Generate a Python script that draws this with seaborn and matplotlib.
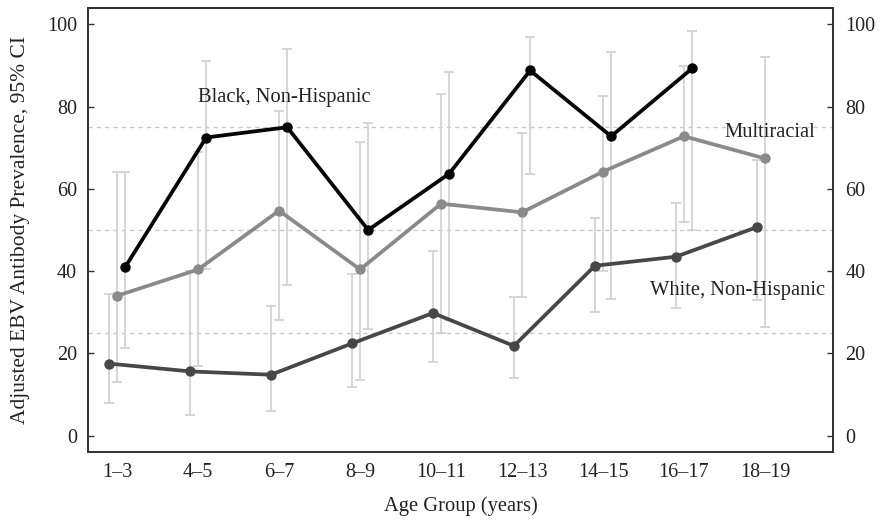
import numpy as np
import pandas as pd
import matplotlib
matplotlib.use('Agg')
import matplotlib.pyplot as plt
import seaborn as sns

# ---- data ----
age_groups = ['1–3', '4–5', '6–7', '8–9', '10–11', '12–13', '14–15', '16–17', '18–19']

white = [17.5, 15.6, 14.8, 22.4, 29.8, 21.8, 41.3, 43.5, 50.7]
white_lo = [8.0, 5.1, 6.0, 11.7, 17.8, 13.9, 30.0, 31.0, 33.0]
white_hi = [34.5, 40.0, 31.6, 39.4, 45.0, 33.6, 53.0, 56.5, 67.0]

multi = [34.0, 40.4, 54.7, 40.4, 56.4, 54.3, 64.2, 72.8, 67.4]
multi_lo = [13.0, 17.0, 28.2, 13.4, 25.0, 33.6, 40.0, 52.0, 26.5]
multi_hi = [64.0, 69.0, 79.0, 71.3, 83.2, 73.7, 82.5, 90.0, 92.2]

black = [41.0, 72.5, 75.0, 50.0, 63.7, 88.8, 72.8, 89.3, np.nan]
black_lo = [21.4, 40.4, 36.7, 26.0, 28.0, 63.7, 33.3, 50.0, np.nan]
black_hi = [64.0, 91.0, 94.0, 76.0, 88.4, 97.0, 93.4, 98.5, np.nan]

series = {
    'White, Non-Hispanic': (white, white_lo, white_hi, -0.1, '#474747'),
    'Multiracial': (multi, multi_lo, multi_hi, 0.0, '#8a8a8a'),
    'Black, Non-Hispanic': (black, black_lo, black_hi, 0.1, '#050505'),
}

rows = []
for name, (vals, lo, hi, off, _) in series.items():
    for i, v in enumerate(vals):
        rows.append({'group': name, 'x': i + off, 'y': v, 'lo': lo[i], 'hi': hi[i]})
df = pd.DataFrame(rows).dropna()

# ---- plot ----
sns.set_theme(style='white')
plt.rcParams['font.family'] = ['Liberation Serif', 'DejaVu Serif']

fig = plt.figure(figsize=(8.8, 5.2), dpi=100)
ax = fig.add_axes([0.1, 0.1308, 0.8466, 0.8538])

for yv in [25, 50, 75]:
    ax.axhline(yv, color='#c8c8c8', linestyle=(0, (3, 3)), linewidth=1.0, zorder=0)

for name, (_, _, _, _, col) in series.items():
    sub = df[df['group'] == name]
    ax.errorbar(sub['x'], sub['y'], yerr=[sub['y'] - sub['lo'], sub['hi'] - sub['y']],
                fmt='none', ecolor='#d0d0d0', elinewidth=1.2, capsize=3.5, capthick=1.2, zorder=1)

palette = {k: v[4] for k, v in series.items()}
sns.lineplot(data=df, x='x', y='y', hue='group', palette=palette, marker='o',
             markersize=7.5, markeredgewidth=0, linewidth=2.7, estimator=None,
             legend=False, ax=ax, zorder=3)

ax.set_xlim(-0.36, 8.84)
ax.set_ylim(-4, 104)
ax.set_xticks(range(len(age_groups)))
ax.set_xticklabels(age_groups)
ax.set_yticks([0, 20, 40, 60, 80, 100])
ax.set_xlabel('Age Group (years)', fontsize=14.8, color='#222222', labelpad=10)
ax.set_ylabel('Adjusted EBV Antibody Prevalence, 95% CI', fontsize=15.5, color='#222222', labelpad=12)
ax.tick_params(direction='in', length=4, width=1, labelsize=14.5, colors='#333333',
               labelcolor='#222222', pad=8)

ax2 = ax.twinx()
ax2.set_ylim(ax.get_ylim())
ax2.set_yticks([0, 20, 40, 60, 80, 100])
ax2.tick_params(direction='in', length=4, width=1, labelsize=14.5, colors='#333333',
                labelcolor='#222222', pad=9)

for a in (ax, ax2):
    for sp in a.spines.values():
        sp.set_color('#333333')
        sp.set_linewidth(1.3)

ax.text(1.0, 82.2, 'Black, Non-Hispanic', fontsize=14.8, color='#222222', va='center', ha='left')
ax.text(7.5, 73.7, 'Multiracial', fontsize=14.8, color='#222222', va='center', ha='left')
ax.text(6.58, 35.3, 'White, Non-Hispanic', fontsize=14.8, color='#222222', va='center', ha='left')

fig.savefig('out.png', dpi=100, facecolor='white')
